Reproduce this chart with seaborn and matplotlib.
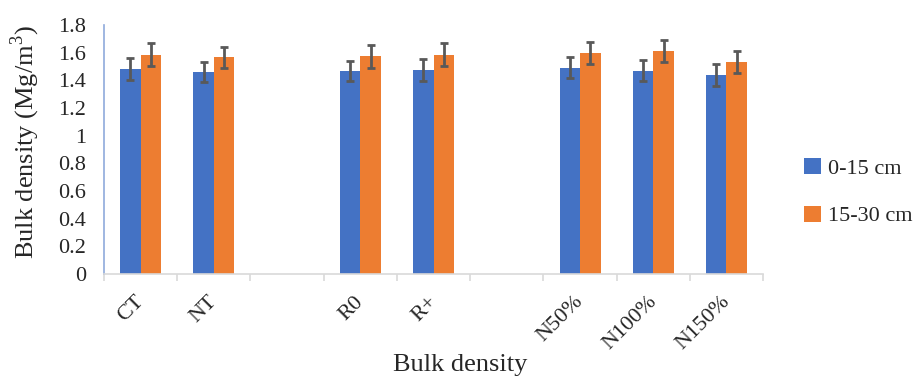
import numpy as np
import pandas as pd
import seaborn as sns
import matplotlib.pyplot as plt
from matplotlib.patches import Patch
from matplotlib.transforms import ScaledTranslation

categories = ["CT", "NT", " ", "R0", "R+", "  ", "N50%", "N100%", "N150%"]
data_cats = ["CT", "NT", "R0", "R+", "N50%", "N100%", "N150%"]
series = ["0-15 cm", "15-30 cm"]
vals_0_15 = [1.48, 1.46, 1.47, 1.475, 1.49, 1.47, 1.44]
vals_15_30 = [1.585, 1.565, 1.575, 1.585, 1.595, 1.612, 1.53]
err_0_15 = [0.078, 0.072, 0.072, 0.077, 0.076, 0.077, 0.078]
err_15_30 = [0.082, 0.078, 0.083, 0.082, 0.081, 0.082, 0.081]
colors = ["#4472C4", "#ED7D31"]

sns.set_theme(style="white")
plt.rcParams['font.family'] = ['Liberation Serif', 'DejaVu Serif']
plt.rcParams['mathtext.fontset'] = 'custom'
plt.rcParams['mathtext.rm'] = 'Liberation Serif'

df = pd.DataFrame({
    "cat": data_cats * 2,
    "depth": [series[0]] * len(data_cats) + [series[1]] * len(data_cats),
    "val": vals_0_15 + vals_15_30,
    "err": err_0_15 + err_15_30,
})

fig = plt.figure(figsize=(9.15, 3.77), dpi=100)
ax = fig.add_axes([0.1137, 0.273, 0.7203, 0.661])
sns.barplot(data=df, x="cat", y="val", hue="depth", order=categories,
            hue_order=series, palette=colors, width=0.56, gap=0,
            errorbar=None, saturation=1, ax=ax, legend=False,
            edgecolor="none")

# error bars at bar centers
for cont, errs in zip(ax.containers, [err_0_15, err_15_30]):
    xs, ys = [], []
    for p in cont.patches:
        h = p.get_height()
        if np.isnan(h):
            continue
        xs.append(p.get_x() + p.get_width() / 2)
        ys.append(h)
    ax.errorbar(xs, ys, yerr=errs, fmt="none", ecolor="#595959",
                elinewidth=2, capsize=3, capthick=2, zorder=5)

ax.set_xlim(-0.5, len(categories) - 0.5)
ax.set_ylim(0, 1.8)
ax.set_yticks(np.arange(0, 1.81, 0.2))
ax.set_yticklabels(["0", "0.2", "0.4", "0.6", "0.8", "1", "1.2", "1.4", "1.6", "1.8"])
ax.set_xticks(range(len(categories)))
ax.set_xticklabels(categories, rotation=45, ha="right", rotation_mode="anchor")
ax.set_xticks(np.arange(-0.5, len(categories), 1), minor=True)
ax.tick_params(axis="x", which="major", length=0, pad=11, labelsize=16)
ax.tick_params(axis="x", which="minor", length=5, width=1.2, color="#D9D9D9", direction="out", bottom=True)
ax.tick_params(axis="y", length=0, pad=13, labelsize=16)
offset = ScaledTranslation(-0.06, -0.03, fig.dpi_scale_trans)
for lab in ax.get_xticklabels():
    lab.set_transform(lab.get_transform() + offset)

for s in ["top", "right"]:
    ax.spines[s].set_visible(False)
ax.spines["left"].set_color("#8FAADC")
ax.spines["left"].set_linewidth(1.2)
ax.spines["bottom"].set_color("#D9D9D9")
ax.spines["bottom"].set_linewidth(1.2)

ylab = ax.set_ylabel("Bulk density (Mg/m$^3$)", fontsize=19)
ylab.set_va("center")
ax.yaxis.set_label_coords(-0.12, 0.53)
xlab = ax.set_xlabel("Bulk density", fontsize=19)
xlab.set_va("center")
ax.xaxis.set_label_coords(0.54, -0.365)

handles = [Patch(facecolor=c, edgecolor="none") for c in colors]
fig.legend(handles, series, loc="center left", bbox_to_anchor=(0.879, 0.49),
           frameon=False, fontsize=16, handlelength=0.75, handleheight=0.75,
           handletextpad=0.3, labelspacing=1.2, borderpad=0, borderaxespad=0)

fig.savefig("out.png", dpi=100)
